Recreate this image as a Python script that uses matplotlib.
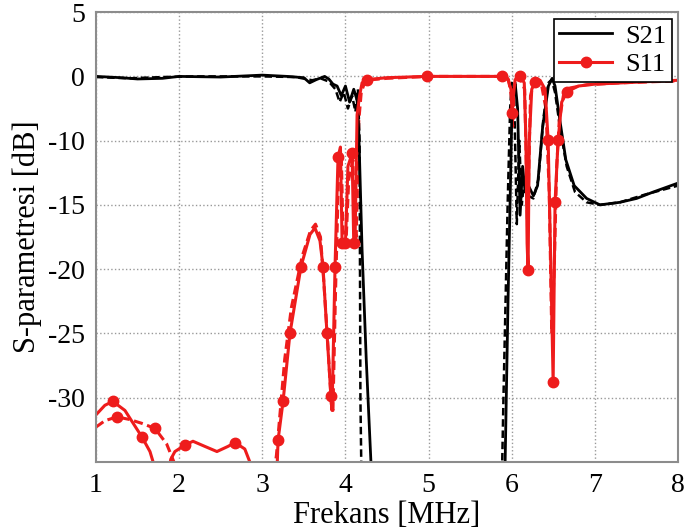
import numpy as np
import matplotlib
matplotlib.use('Agg')
import matplotlib.pyplot as plt

plt.rcParams['font.family'] = ['Liberation Serif', 'DejaVu Serif']
plt.rcParams['axes.unicode_minus'] = False

# S21 ölçüm (düz) ve simülasyon (kesikli)
s21_x = [1.0, 1.3, 1.5, 1.8, 2.0, 2.5, 3.0, 3.3, 3.5, 3.57, 3.65, 3.75, 3.8, 3.85, 3.9, 3.95, 4.0,
         4.05, 4.1, 4.14, 4.16, 4.2, 4.25, 4.31, 4.35, 5.88, 5.92, 5.955, 5.99, 6.004, 6.04, 6.07,
         6.1, 6.13, 6.16, 6.2, 6.26, 6.31, 6.37, 6.44, 6.485, 6.52, 6.58, 6.65, 6.75, 6.9, 7.06,
         7.3, 7.5, 7.7, 8.0]
s21_y = [0.0, -0.2, -0.4, -0.3, 0.0, -0.1, 0.1, 0.0, -0.2, -1.0, -0.5, 0.0, -0.4, -1.2, -1.5, -3.0,
         -1.5, -4.0, -2.0, -3.7, -8.4, -18.5, -27.0, -35.5, -40.0, -40.0, -35.0, -22.4, -11.5, -3.7,
         -1.0, -5.0, -15.8, -12.0, -14.0, -13.5, -14.3, -13.5, -8.0, -1.5, -0.3, -1.5, -7.0, -11.5,
         -13.5, -14.5, -15.0, -14.8, -14.5, -14.0, -13.3]
s21d_x = [1.0, 1.4, 1.8, 2.2, 2.6, 3.0, 3.4, 3.6, 3.7, 3.8, 3.88, 3.93, 3.98, 4.03, 4.08, 4.12,
          4.15, 4.17, 4.18, 4.2, 5.87, 5.9, 5.95, 5.98, 6.0, 6.03, 6.06, 6.09, 6.12, 6.15, 6.2,
          6.26, 6.32, 6.38, 6.44, 6.48, 6.52, 6.58, 6.66, 6.76, 6.9, 7.06, 7.3, 7.6, 8.0]
s21d_y = [-0.1, -0.3, -0.1, 0.0, 0.0, 0.0, -0.1, -0.6, -0.3, -0.8, -2.0, -4.0, -2.5, -5.0, -3.0,
          -5.5, -2.0, -10.0, -30.0, -40.0, -40.0, -30.0, -15.0, -5.0, -1.0, -4.0, -16.5, -10.0,
          -15.0, -13.0, -14.3, -14.5, -13.0, -6.5, -1.0, -0.5, -2.5, -8.0, -12.0, -14.0, -14.8,
          -15.0, -14.8, -14.2, -13.5]

# S11 ölçüm (düz) ve simülasyon (kesikli)
s11_x = [1.0, 1.108, 1.204, 1.349, 1.553, 1.65, 1.734, 1.78, 1.84, 1.9, 1.95, 2.07, 2.167, 2.31,
         2.455, 2.588, 2.672, 2.79, 2.85, 2.888, 3.165, 3.19, 3.25, 3.333, 3.466, 3.574, 3.634,
         3.694, 3.73, 3.778, 3.826, 3.839, 3.875, 3.911, 3.94, 3.96, 4.0, 4.03, 4.08, 4.1, 4.115,
         4.14, 4.17, 4.2, 4.26, 4.5, 4.98, 5.5, 5.883, 5.95, 5.99, 6.004, 6.02, 6.04, 6.1, 6.15,
         6.17, 6.184, 6.196, 6.21, 6.24, 6.28, 6.34, 6.4, 6.437, 6.47, 6.497, 6.52, 6.557, 6.6,
         6.665, 6.8, 7.0, 7.5, 8.0]
s11_y = [-31.35, -30.6, -30.3, -31.0, -33.06, -34.2, -36.0, -38.0, -37.0, -34.8, -34.2, -33.7,
         -33.4, -33.8, -34.2, -33.8, -33.5, -34.0, -35.0, -38.0, -38.0, -33.3, -30.3, -25.0, -19.8,
         -17.3, -16.8, -17.8, -19.8, -25.0, -29.9, -31.0, -19.8, -11.3, -10.5, -18.0, -18.0, -12.0,
         -11.0, -18.0, -18.0, -6.0, -3.0, -1.0, -0.5, -0.2, 0.0, 0.0, 0.0, -0.3, -2.0, -5.7, -3.0,
         -0.5, 0.0, -1.0, -10.0, -18.0, -20.1, -10.0, -2.0, -0.9, -0.6, -2.0, -9.9, -20.0, -28.8,
         -14.8, -9.9, -4.0, -2.4, -1.5, -1.2, -0.9, -0.6]
s11_mk = [2, 4, 11, 16, 21, 22, 23, 24, 28, 29, 30, 32, 33, 35, 36, 38, 39, 44, 46, 48, 51, 54,
          58, 61, 64, 66, 67, 68, 70]
s11d_x = [1.0, 1.108, 1.253, 1.4, 1.55, 1.71, 1.85, 1.95, 2.0, 3.1, 3.17, 3.21, 3.27, 3.35,
          3.48, 3.58, 3.64, 3.7, 3.74, 3.79, 3.83, 3.85, 3.88, 3.92, 3.95, 3.97, 4.01, 4.04, 4.09,
          4.11, 4.13, 4.16, 4.19, 4.24, 4.5, 5.0, 5.5, 5.9, 5.96, 5.995, 6.01, 6.03, 6.06, 6.1,
          6.155, 6.175, 6.19, 6.205, 6.225, 6.26, 6.3, 6.36, 6.41, 6.45, 6.48, 6.51, 6.54, 6.57,
          6.62, 6.7, 6.9, 7.3, 8.0]
s11d_y = [-32.3, -31.8, -31.5, -31.7, -32.0, -32.4, -33.6, -35.2, -38.0, -38.0, -34.5, -31.5,
          -27.0, -23.0, -19.0, -17.0, -16.5, -17.5, -21.0, -26.0, -30.5, -31.0, -22.0, -12.0,
          -11.0, -17.0, -17.5, -13.0, -11.5, -17.0, -17.5, -7.0, -2.5, -0.6, -0.3, 0.0, 0.0, 0.0,
          -0.5, -3.0, -7.8, -2.0, -0.3, -0.2, -2.0, -12.0, -17.0, -12.0, -3.0, -1.2, -0.8, -1.5,
          -5.0, -14.0, -25.0, -20.0, -12.0, -7.0, -3.0, -1.8, -1.3, -1.0, -0.7]
s11d_mk = [2, 5]


# y ekseni: 0 ile -10 arası sıkışık (orijinal şekildeki gibi)
def fwd(v):
    v = np.asarray(v, float)
    return np.where(v >= 0, v, np.where(v >= -10, v / 2, v + 5))


def inv(p):
    p = np.asarray(p, float)
    return np.where(p >= 0, p, np.where(p >= -5, p * 2, p - 5))


fig = plt.figure(figsize=(6.85, 5.29), dpi=100)
ax = fig.add_axes([0.140, 0.127, 0.850, 0.850])
ax.set_yscale('function', functions=(fwd, inv))

ax.plot(s21d_x, s21d_y, color='black', lw=1.8, ls=(0, (3, 1.5)))
ax.plot(s11d_x, s11d_y, color='#ee1c1c', lw=2.2, ls=(0, (3, 1.5)),
        marker='o', ms=7.5, markevery=s11d_mk)
ax.plot(s21_x, s21_y, color='black', lw=2.0, label='S21')
ax.plot(s11_x, s11_y, color='#ee1c1c', lw=2.2, marker='o', ms=7.5,
        markevery=s11_mk, label='S11')

ax.set_xlim(1, 8)
ax.set_ylim(-35, 5)
ax.set_xticks([1, 2, 3, 4, 5, 6, 7, 8])
ax.set_yticks([5, 0, -10, -15, -20, -25, -30])
ax.tick_params(labelsize=20, length=0, pad=8)
ax.grid(True, color='#999999', ls=':', lw=1.0)
for s in ax.spines.values():
    s.set_color('#8c8c8c')
    s.set_linewidth(1.5)

ax.set_xlabel('Frekans [MHz]', fontsize=22, labelpad=2)
ax.set_ylabel('S-parametresi [dB]', fontsize=22, labelpad=4)

leg = ax.legend(loc='upper right', fontsize=19, fancybox=False, framealpha=1,
                edgecolor='black', borderaxespad=0.25, handlelength=2.0,
                borderpad=0.2, labelspacing=0.2, handletextpad=0.5)
leg.get_frame().set_linewidth(1.2)

fig.savefig('out.png', dpi=100)
